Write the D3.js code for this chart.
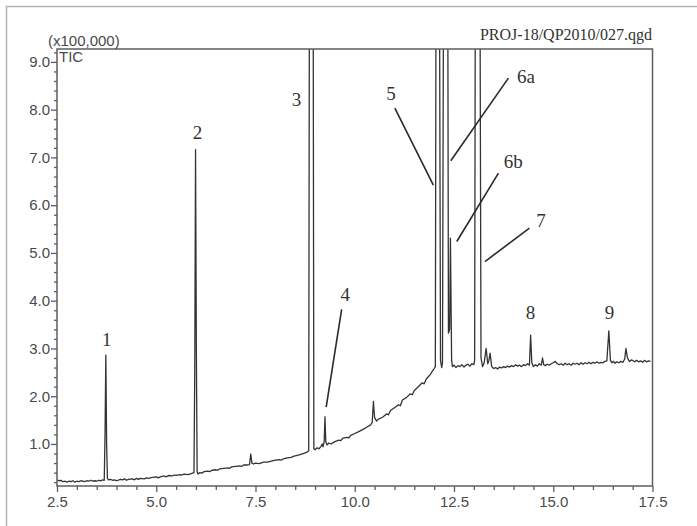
<!DOCTYPE html>
<html>
<head>
<meta charset="utf-8">
<script src="https://cdn.jsdelivr.net/npm/d3@7"></script>
<style>
  html, body { margin: 0; padding: 0; background: #ffffff; }
  svg { display: block; }
</style>
</head>
<body>
<div id="chart"></div>
<script>
// Retention time (min) and TIC intensity (x100,000)
const retentionTime = [
  2.50,2.55,2.60,2.65,2.70,2.75,2.80,2.85,2.90,2.95,3.00,3.05,3.10,3.15,3.20,3.25,3.30,3.35,3.40,3.45,3.50,3.55,3.60,3.65,3.69,
  3.71,3.73,3.75,3.77,3.80,3.85,3.90,3.95,4.00,4.10,4.15,4.20,4.25,4.30,4.40,4.45,4.50,4.55,4.60,4.70,4.75,4.80,4.90,
  5.00,5.05,5.10,5.20,5.25,5.30,5.40,5.45,5.50,5.60,5.65,5.70,5.80,5.88,5.95,5.97,5.99,6.01,6.03,6.05,6.10,6.15,6.20,
  6.30,6.35,6.40,6.50,6.55,6.60,6.70,6.80,6.85,6.90,7.00,7.10,7.15,7.20,7.30,7.35,7.38,7.41,7.45,7.50,7.60,7.70,7.80,
  7.90,8.00,8.10,8.15,8.20,8.30,8.40,8.45,8.50,8.60,8.70,8.80,8.84,8.86,8.95,8.97,9.00,9.05,9.10,9.15,9.18,9.20,9.23,
  9.25,9.27,9.30,9.35,9.40,9.50,9.60,9.65,9.70,9.80,9.85,9.90,10.00,10.10,10.20,10.30,10.40,10.44,10.47,10.50,10.55,
  10.60,10.70,10.80,10.85,10.90,11.00,11.10,11.15,11.20,11.30,11.40,11.45,11.50,11.60,11.70,11.75,11.80,11.90,11.95,
  12.00,12.03,12.05,12.13,12.16,12.19,12.21,12.24,12.34,12.36,12.39,12.41,12.44,12.46,12.50,12.55,12.60,12.65,12.70,
  12.75,12.80,12.85,12.90,12.95,13.00,13.02,13.04,13.15,13.18,13.22,13.26,13.31,13.35,13.38,13.41,13.45,13.50,13.55,
  13.60,13.65,13.70,13.75,13.80,13.85,13.90,13.95,14.00,14.05,14.10,14.15,14.20,14.25,14.30,14.35,14.40,14.43,14.46,
  14.50,14.55,14.60,14.65,14.70,14.73,14.76,14.80,14.85,14.90,14.95,15.00,15.05,15.10,15.15,15.20,15.25,15.30,15.35,
  15.40,15.45,15.50,15.55,15.60,15.65,15.70,15.75,15.80,15.85,15.90,15.95,16.00,16.05,16.10,16.15,16.20,16.25,16.30,
  16.35,16.40,16.44,16.48,16.52,16.56,16.60,16.65,16.70,16.75,16.80,16.83,16.87,16.92,16.98,17.05,17.10,17.15,17.20,
  17.25,17.30,17.35,17.40,17.45
];
const ticIntensity = [
  0.25,0.23,0.24,0.21,0.22,0.20,0.22,0.21,0.23,0.20,0.22,0.21,0.23,0.22,0.21,0.23,0.22,0.24,0.22,0.23,0.22,0.24,0.23,0.25,0.24,
  1.20,2.86,1.00,0.28,0.25,0.26,0.24,0.25,0.23,0.26,0.25,0.27,0.24,0.26,0.27,0.25,0.28,0.26,0.28,0.27,0.29,0.28,0.30,
  0.31,0.29,0.31,0.33,0.31,0.34,0.33,0.35,0.34,0.36,0.35,0.37,0.36,0.38,0.40,2.50,7.16,3.00,0.42,0.37,0.40,0.39,0.42,
  0.43,0.42,0.45,0.46,0.45,0.48,0.49,0.50,0.49,0.52,0.53,0.54,0.53,0.56,0.56,0.57,0.79,0.60,0.58,0.60,0.59,0.62,0.62,
  0.64,0.66,0.67,0.66,0.69,0.71,0.72,0.74,0.75,0.77,0.80,0.83,0.86,12.0,12.0,0.90,0.88,0.92,0.90,0.95,1.00,0.94,1.05,
  1.57,1.05,0.98,1.02,1.00,1.05,1.08,1.07,1.12,1.14,1.13,1.18,1.22,1.26,1.30,1.35,1.40,1.45,1.89,1.55,1.48,
  1.52,1.56,1.63,1.61,1.70,1.76,1.82,1.80,1.92,1.97,2.05,2.03,2.12,2.20,2.28,2.26,2.36,2.45,2.52,
  2.58,2.62,12.0,12.0,2.75,2.60,2.70,12.0,12.0,3.32,3.40,5.31,2.75,2.62,2.65,2.60,2.64,2.62,2.66,
  2.61,2.65,2.67,2.63,2.68,2.66,2.75,12.0,12.0,2.80,2.62,2.70,3.00,2.68,2.75,2.90,2.62,2.58,2.60,
  2.57,2.61,2.59,2.62,2.60,2.63,2.61,2.64,2.62,2.66,2.63,2.65,2.62,2.66,2.64,2.68,2.65,3.28,2.70,
  2.62,2.66,2.63,2.68,2.65,2.80,2.66,2.64,2.67,2.65,2.68,2.70,2.73,2.68,2.66,2.68,2.65,2.69,2.66,
  2.68,2.65,2.69,2.67,2.69,2.66,2.70,2.67,2.70,2.68,2.71,2.68,2.71,2.69,2.72,2.69,2.71,2.70,2.73,
  2.74,3.37,2.75,2.70,2.73,2.69,2.72,2.70,2.73,2.71,2.78,3.00,2.80,2.73,2.76,2.72,2.75,2.72,2.74,
  2.71,2.75,2.72,2.74,2.73
];

// Axis ticks
const xMajorTicks = [2.5, 5.0, 7.5, 10.0, 12.5, 15.0, 17.5];
const xMinorTicks = d3.range(3.0, 17.5, 0.5).filter(v => Math.abs((v - 2.5) / 2.5 - Math.round((v - 2.5) / 2.5)) > 1e-6);
const yMajorTicks = [1.0, 2.0, 3.0, 4.0, 5.0, 6.0, 7.0, 8.0, 9.0];
const yMinorTicks = d3.range(0.2, 9.3, 0.2).filter(v => Math.abs(v - Math.round(v)) > 1e-6);

// Peak labels (centre retention time, baseline intensity)
const peakLabels = ["1", "2", "3", "4", "5", "6a", "6b", "7", "8", "9"];
const labelTime =  [3.75, 6.04, 8.53, 9.76, 10.91, 14.31, 13.99, 14.69, 14.43, 16.42];
const labelLevel = [3.06, 7.39, 8.08, 4.00, 8.20, 8.55, 6.78, 5.54, 3.62, 3.62];

// Leader lines (label end -> peak end) in data units
const leaderNames = ["4", "5", "6a", "6b", "7"];
const leaderT1 = [9.67, 11.01, 13.87, 13.62, 14.40];
const leaderV1 = [3.82, 8.03, 8.66, 6.67, 5.52];
const leaderT2 = [9.28, 11.98, 12.42, 12.57, 13.28];
const leaderV2 = [1.77, 6.42, 6.93, 5.24, 4.82];

const W = 697, H = 526;
const svg = d3.select("#chart").append("svg").attr("width", W).attr("height", H);

// outer scan border
svg.append("path").attr("d", `M6.5,${H} L6.5,6.5 L${W},6.5`)
  .attr("fill", "none").attr("stroke", "#b4b4b4").attr("stroke-width", 1.5);

const x = d3.scaleLinear().domain([2.5, 17.5]).range([57, 652.5]);
const y = d3.scaleLinear().domain([0.12, 9.27]).range([486, 49]);

const axisColor = "#5d5d5d";
const tickFont = "'Liberation Sans', Arial, sans-serif";
const serifFont = "'Liberation Serif', 'Times New Roman', serif";

// clip
svg.append("clipPath").attr("id", "plotClip").append("rect")
  .attr("x", x.range()[0]).attr("y", y.range()[1])
  .attr("width", x.range()[1] - x.range()[0]).attr("height", y.range()[0] - y.range()[1]);

// trace
const pts = retentionTime.map((t, i) => [t, ticIntensity[i]]);
svg.append("path")
  .attr("clip-path", "url(#plotClip)")
  .attr("d", d3.line().x(d => x(d[0])).y(d => y(d[1]))(pts))
  .attr("fill", "none").attr("stroke", "#333333").attr("stroke-width", 1.3)
  .attr("stroke-linejoin", "round");

// frame
svg.append("rect")
  .attr("x", x.range()[0]).attr("y", y.range()[1])
  .attr("width", x.range()[1] - x.range()[0]).attr("height", y.range()[0] - y.range()[1])
  .attr("fill", "none").attr("stroke", axisColor).attr("stroke-width", 1.5);

function styleAxis(g) {
  g.select(".domain").remove();
  g.selectAll(".tick line").attr("stroke", axisColor).attr("stroke-width", 1.3);
  g.selectAll(".tick text").attr("fill", "#4a4a4a").attr("font-family", tickFont).attr("font-size", 15);
}

// Y axis
svg.append("g").attr("transform", `translate(${x.range()[0]},0)`)
  .call(d3.axisLeft(y).tickValues(yMinorTicks).tickSize(3).tickFormat(""))
  .call(styleAxis);
svg.append("g").attr("transform", `translate(${x.range()[0]},0)`)
  .call(d3.axisLeft(y).tickValues(yMajorTicks).tickSize(6).tickPadding(1).tickFormat(d3.format(".1f")))
  .call(styleAxis);

// X axis
svg.append("g").attr("transform", `translate(0,${y.range()[0]})`)
  .call(d3.axisBottom(x).tickValues(xMinorTicks).tickSize(4).tickFormat(""))
  .call(styleAxis);
svg.append("g").attr("transform", `translate(0,${y.range()[0]})`)
  .call(d3.axisBottom(x).tickValues(xMajorTicks).tickSize(6).tickPadding(4).tickFormat(d3.format(".1f")))
  .call(styleAxis);

// header texts
svg.append("text").attr("x", 48).attr("y", 45.5)
  .attr("font-family", tickFont).attr("font-size", 15).attr("fill", "#4a4a4a")
  .text("(x100,000)");
svg.append("text").attr("x", 59).attr("y", 62)
  .attr("font-family", tickFont).attr("font-size", 15).attr("fill", "#4a4a4a")
  .text("TIC");
svg.append("text").attr("x", 652).attr("y", 39.5).attr("text-anchor", "end")
  .attr("font-family", serifFont).attr("font-size", 16).attr("fill", "#333")
  .text("PROJ-18/QP2010/027.qgd");

// leader lines
svg.append("g").selectAll("line").data(leaderNames).join("line")
  .attr("x1", (d, i) => x(leaderT1[i])).attr("y1", (d, i) => y(leaderV1[i]))
  .attr("x2", (d, i) => x(leaderT2[i])).attr("y2", (d, i) => y(leaderV2[i]))
  .attr("stroke", "#2a2a2a").attr("stroke-width", 1.6);

// peak labels
svg.append("g").selectAll("text").data(peakLabels).join("text")
  .attr("x", (d, i) => x(labelTime[i])).attr("y", (d, i) => y(labelLevel[i]))
  .attr("text-anchor", "middle")
  .attr("font-family", serifFont).attr("font-size", 19).attr("fill", "#333")
  .text(d => d);
</script>
</body>
</html>
